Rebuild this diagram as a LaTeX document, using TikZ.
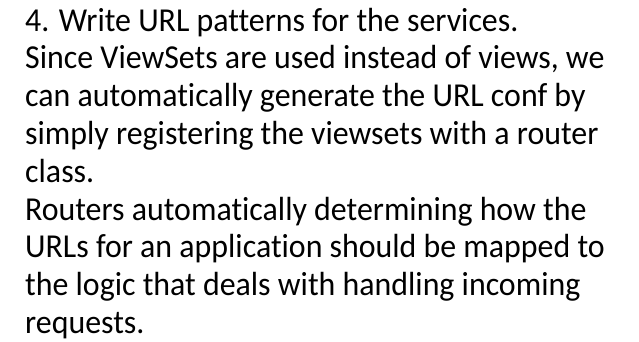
\documentclass[tikz,border=0pt]{standalone}
\usepackage{fontspec}
\setmainfont[Ligatures=NoCommon]{Carlito}
\newcommand{\tallline}[1]{\scalebox{1}[1.05]{#1}}
\begin{document}
\begin{tikzpicture}[x=1bp,y=1bp,
  txt/.style={anchor=base west, inner sep=0pt, font=\fontsize{32}{38}\selectfont}]
\useasboundingbox (0,0) rectangle (639,341);
\node[txt] (l1) at (25,310) {\tallline{4. Write URL patterns for the services.}};
\node[txt] (l2) at (25,272.2) {\tallline{Since ViewSets are used instead of views, we}};
\node[txt] (l3) at (25,234.4) {\tallline{can automatically generate the URL conf by}};
\node[txt] (l4) at (25,196.6) {\tallline{simply registering the viewsets with a router}};
\node[txt] (l5) at (25,158.8) {\tallline{class.}};
\node[txt] (l6) at (25,121.0) {\tallline{Routers automatically determining how the}};
\node[txt] (l7) at (25,83.2) {\tallline{URLs for an application should be mapped to}};
\node[txt] (l8) at (25,45.4) {\tallline{the logic that deals with handling incoming}};
\node[txt] (l9) at (25,7.6) {\tallline{requests.}};
\end{tikzpicture}
\end{document}
